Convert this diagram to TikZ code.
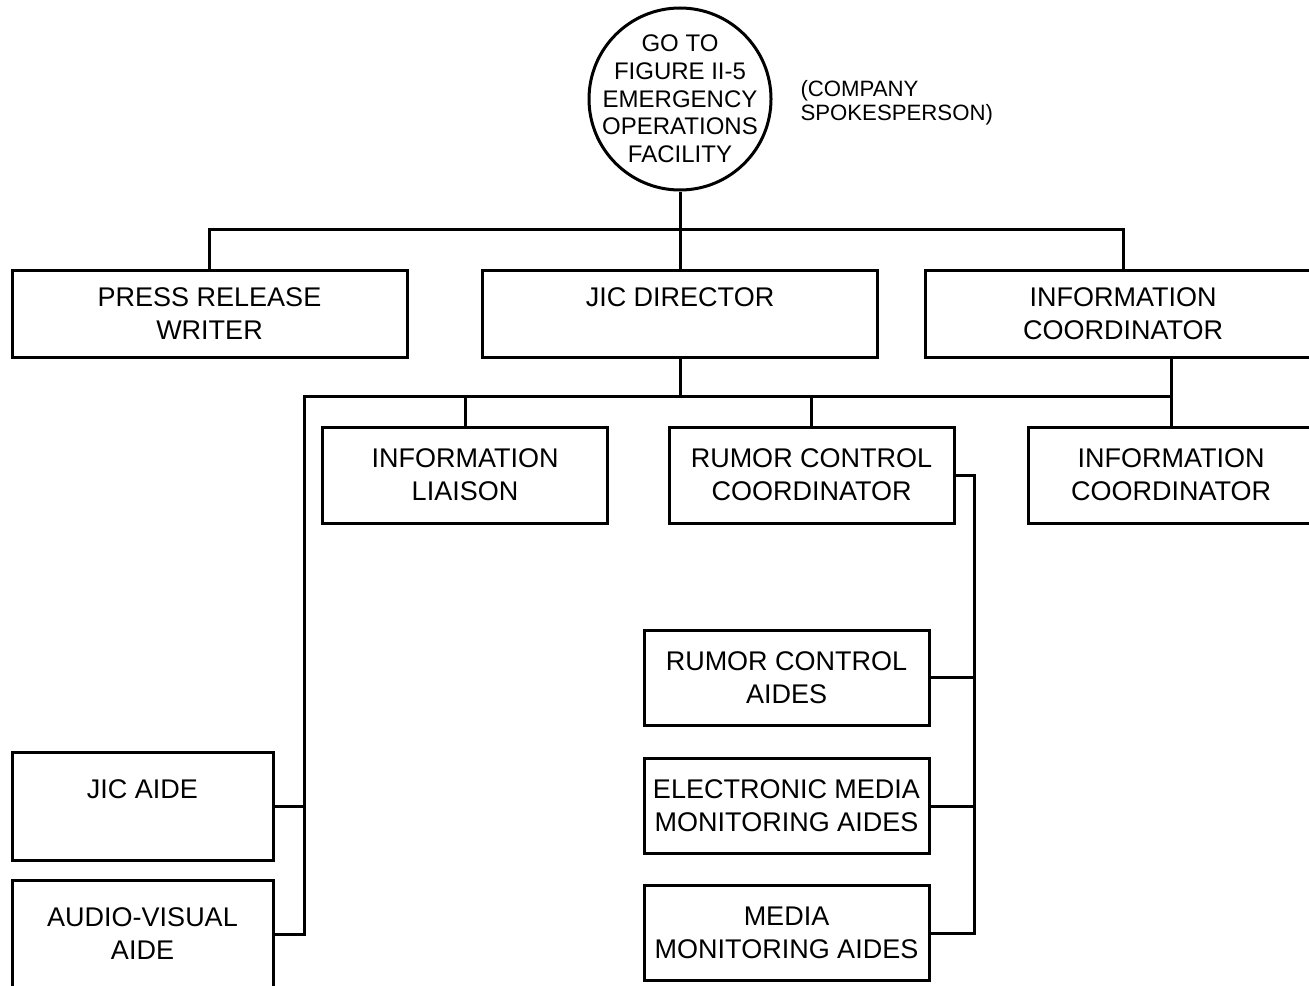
\documentclass[tikz,border=0pt]{standalone}
\usepackage{fontspec}
\setmainfont{Liberation Sans}
\usepackage{tikz}
\usetikzlibrary{positioning}

\newcommand{\boxfont}{\fontsize{13.5}{16.5}\selectfont}
\newcommand{\circfont}{\fontsize{12}{13.85}\selectfont}
\newcommand{\notefont}{\fontsize{11.1}{11.9}\selectfont}

\tikzset{
  box/.style={draw, rectangle, inner sep=0pt, align=center, font=\boxfont},
  topbox/.style={box, minimum width=197.5pt, minimum height=43.5pt},
  midbox/.style={box, minimum width=142.5pt, minimum height=48pt},
  aidebox/.style={box, minimum width=142.5pt, minimum height=47.5pt},
  leftbox/.style={box, minimum width=130.5pt, minimum height=54pt},
}

\begin{document}
\begin{tikzpicture}[x=0.5pt, y=-0.5pt, line width=1.5pt]
      \clip (0,0) rectangle (1309,985);
      % top
      \node (goto) [draw, circle, minimum size=91pt, inner sep=0pt] at (680,99) {};
      \node (gototext) [align=center, inner sep=0pt, font=\circfont] at (goto.center)
        {GO TO\\FIGURE II-5\\EMERGENCY\\OPERATIONS\\FACILITY};
      \node (spokes) [anchor=west, align=left, inner sep=0pt, font=\notefont] at (799,103)
        {(COMPANY\\SPOKESPERSON)};
      % first row
      \node (prw) [topbox] at (209.5,313.5) {PRESS RELEASE\\WRITER};
      \node (jicdir) [topbox] at (680,313.5) {JIC DIRECTOR\\\mbox{}};
      \node (ic1) [topbox] at (1123,313.5) {INFORMATION\\COORDINATOR};
      % second row
      \node (infolia) [midbox] at (465,475) {INFORMATION\\LIAISON};
      \node (rumcoord) [midbox] at (811.5,475) {RUMOR CONTROL\\COORDINATOR};
      \node (ic2) [midbox] at (1171,475) {INFORMATION\\COORDINATOR};
      % aides
      \node (rumaides) [aidebox] at (786.5,677.5) {RUMOR CONTROL\\AIDES};
      \node (elec) [aidebox] at (786.5,806) {ELECTRONIC MEDIA\\MONITORING AIDES};
      \node (media) [aidebox] at (786.5,933) {MEDIA\\MONITORING AIDES};
      \node (jicaide) [leftbox] at (142.5,806) {JIC AIDE\\\mbox{}};
      \node (avaide) [leftbox] at (142.5,934) {AUDIO-VISUAL\\AIDE};

      \coordinate (topbus) at (680,229);
      \coordinate (midbus) at (680,396);
      \coordinate (lcorner) at (304,396);
      \coordinate (rcorner) at (974,475);

      \draw (goto.south) -- (jicdir.north);
      \draw (prw.north) |- (topbus) -| (ic1.north);
      \draw (jicdir.south) -- (midbus);
      \draw (avaide.east) -| (lcorner) -- (ic2.north |- midbus);
      \draw (jicaide.east) -- (jicaide.east -| lcorner);
      \draw (infolia.north) -- (infolia.north |- midbus);
      \draw (rumcoord.north) -- (rumcoord.north |- midbus);
      \draw (ic1.south -| ic2.north) -- (ic2.north);
      \draw (rumcoord.east) -- (rcorner) |- (media.east);
      \draw (rumaides.east) -- (rumaides.east -| rcorner);
      \draw (elec.east) -- (elec.east -| rcorner);
    \end{tikzpicture}
\end{document}
